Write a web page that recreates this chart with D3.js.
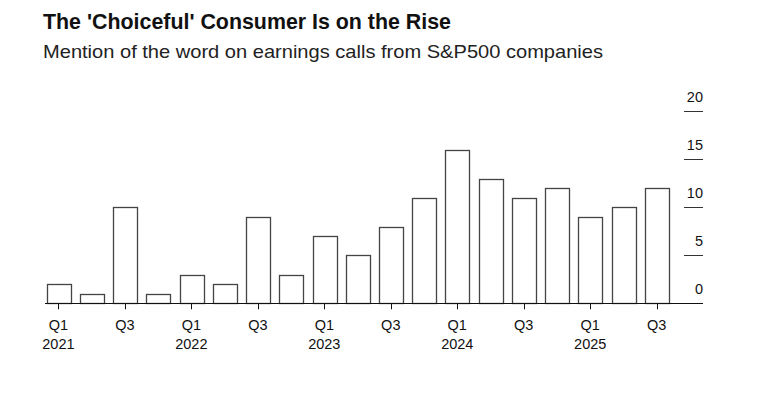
<!DOCTYPE html>
<html>
<head>
<meta charset="utf-8">
<script src="https://cdn.jsdelivr.net/npm/d3@7"></script>
<style>
	body { margin: 0; background: #fff; }
	text { font-family: "Liberation Sans", Arial, sans-serif; fill: #111; }
	.title { font-weight: bold; font-size: 22px; }
	.subtitle { font-size: 18.5px; fill: #222; }
	.tick-label { font-size: 14.5px; }
</style>
</head>
<body>
<svg id="viz"></svg>
<script>

	// the data
	var quarters = ["Q1", "Q2", "Q3", "Q4", "Q1", "Q2", "Q3", "Q4", "Q1", "Q2", "Q3", "Q4",
		"Q1", "Q2", "Q3", "Q4", "Q1", "Q2", "Q3"];
	var years = [2021, 2021, 2021, 2021, 2022, 2022, 2022, 2022, 2023, 2023, 2023, 2023,
		2024, 2024, 2024, 2024, 2025, 2025, 2025];
	var mentions = [2, 1, 10, 1, 3, 2, 9, 3, 7, 5, 8, 11, 16, 13, 11, 12, 9, 10, 12];
	var yTicks = [0, 5, 10, 15, 20];

	var keys = quarters.map(function(q, i) { return q + " " + years[i]; });



	// set up the svg
	var w = 778;
	var h = 406;
	var viz = d3.select("#viz").attr("width", w).attr("height", h);

	// title + subtitle, stretched to the widths of the original typeface
	viz.append("text").attr("class", "title").attr("x", 43).attr("y", 29)
		.attr("textLength", 408).attr("lengthAdjust", "spacingAndGlyphs")
		.text("The 'Choiceful' Consumer Is on the Rise");
	viz.append("text").attr("class", "subtitle").attr("x", 43).attr("y", 58)
		.attr("textLength", 560).attr("lengthAdjust", "spacingAndGlyphs")
		.text("Mention of the word on earnings calls from S&P500 companies");



	// scales
	var x = d3.scaleBand().domain(keys).range([41.8, 673.3]).paddingInner(0.29).paddingOuter(0.145);
	var y = d3.scaleLinear().domain([0, 20]).range([303.3, 111.3]);



	// y axis: short lines on the right with labels sitting above them
	var yAxis = viz.append("g");
	yAxis.selectAll("line")
		.data(yTicks.filter(function(d) { return d > 0; }))
		.enter()
		.append("line")
		.attr("x1", 684).attr("x2", 703)
		.attr("y1", function(d) { return Math.round(y(d)) + 0.5; })
		.attr("y2", function(d) { return Math.round(y(d)) + 0.5; })
		.attr("stroke", "#333").attr("stroke-width", 1);
	yAxis.selectAll("text")
		.data(yTicks)
		.enter()
		.append("text")
		.attr("class", "tick-label")
		.attr("x", 703)
		.attr("y", function(d) { return y(d) - 9; })
		.attr("text-anchor", "end")
		.text(function(d) { return d; });



	// draw the bars
	viz.selectAll("rect")
		.data(mentions)
		.enter()
		.append("rect")
		.attr("x", function(d, i) { return Math.round(x(keys[i])) + 0.5; })
		.attr("y", function(d) { return Math.round(y(d)) + 0.5; })
		.attr("width", Math.round(x.bandwidth()))
		.attr("height", function(d) { return Math.round(y(0)) - Math.round(y(d)); })
		.attr("fill", "#fff")
		.attr("stroke", "#444")
		.attr("stroke-width", 1.3);



	// base line
	viz.append("line")
		.attr("x1", 45).attr("x2", 703)
		.attr("y1", Math.round(y(0)) + 0.5).attr("y2", Math.round(y(0)) + 0.5)
		.attr("stroke", "#111").attr("stroke-width", 1);



	// x ticks every other quarter (Q1 and Q3)
	var shown = keys.filter(function(k, i) { return i % 2 === 0; });
	var xAxis = viz.append("g");
	xAxis.selectAll("line")
		.data(shown)
		.enter()
		.append("line")
		.attr("x1", function(d) { return Math.round(x(d) + x.bandwidth() / 2) + 0.5; })
		.attr("x2", function(d) { return Math.round(x(d) + x.bandwidth() / 2) + 0.5; })
		.attr("y1", y(0)).attr("y2", y(0) + 6)
		.attr("stroke", "#111");
	xAxis.selectAll("text.q")
		.data(shown)
		.enter()
		.append("text")
		.attr("class", "tick-label q")
		.attr("x", function(d) { return x(d) + x.bandwidth() / 2; })
		.attr("y", 330)
		.attr("text-anchor", "middle")
		.text(function(d) { return d.split(" ")[0]; });
	xAxis.selectAll("text.yr")
		.data(shown.filter(function(d) { return d.indexOf("Q1") === 0; }))
		.enter()
		.append("text")
		.attr("class", "tick-label yr")
		.attr("x", function(d) { return x(d) + x.bandwidth() / 2; })
		.attr("y", 349)
		.attr("text-anchor", "middle")
		.text(function(d) { return d.split(" ")[1]; });

</script>
</body>
</html>
